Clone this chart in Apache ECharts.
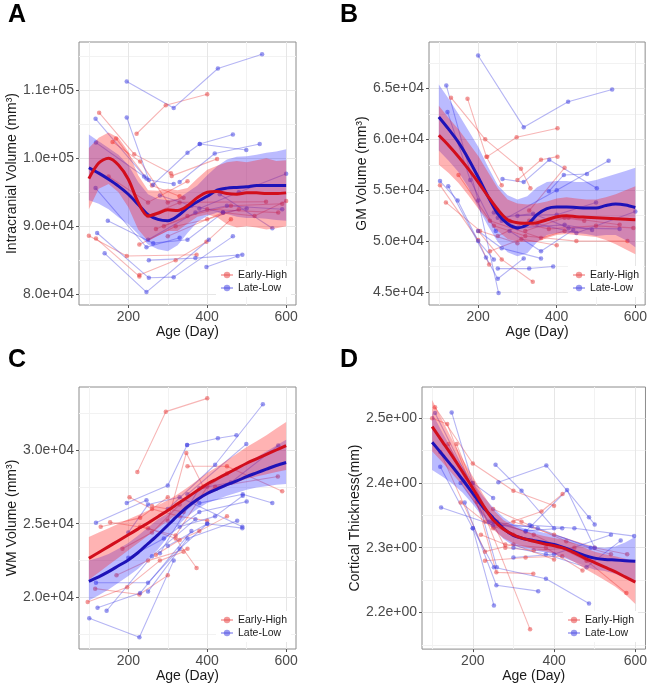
<!DOCTYPE html>
<html><head><meta charset="utf-8">
<script src="https://cdn.jsdelivr.net/npm/echarts@6/dist/echarts.min.js"></script>
<style>html,body{margin:0;padding:0;background:#fff}#c{width:650px;height:684px}</style>
</head><body><div id="c"></div><script>
// ---------------- DATA ----------------
const groups = ['Early-High', 'Late-Low'];
const xTicks = [200, 400, 600];
const xMinor = [100, 300, 500];
const fitDays = [100,125,150,175,200,225,250,275,300,325,350,375,400,425,450,475,500,525,550,575,600];

// Panel A: Intracranial volume
const A_yTicks = [80000, 90000, 100000, 110000];
const A_yMinor = [85000, 95000, 105000, 115000];
const A_red_fit  = [97000,99300,100000,99000,96900,93500,91500,91900,92400,92300,93000,94200,95000,95100,94800,94700,94900,94900,94800,94800,94900];
const A_red_hi   = [101500,103000,103800,103000,101000,97500,95300,95200,95500,95300,95600,97000,98300,98900,99400,99600,99400,99700,100000,99600,99700];
const A_red_lo   = [92500,95500,96200,95000,92800,89500,87800,88600,89300,89300,90400,91400,91700,91300,90300,89800,90000,89800,89500,89700,90000];
const A_blue_fit = [98600,97800,96900,95900,94700,93200,91700,91000,90800,91500,92700,93600,94400,95300,95600,95700,95800,96000,96000,96000,96000];
const A_blue_hi  = [103500,102500,101500,100500,99000,96500,94700,94000,93800,94000,95000,96000,97500,98800,99800,100200,100300,100500,100800,101000,101300];
const A_blue_lo  = [93800,93300,92500,91300,90300,88800,87300,86600,86300,87200,89000,90600,91500,92000,91800,91400,91200,91200,91100,90900,90800];
const A_red_subjects = [
  [[221,103600],[295,107800],[400,109400]],
  [[126,106700],[215,100600],[308,97800]],
  [[310,97400],[425,99900]],
  [[160,102400],[230,99500],[300,93500],[340,94200]],
  [[169,102900],[260,96000],[330,94400]],
  [[100,88600],[196,85600],[373,85800]],
  [[118,88200],[228,82600]],
  [[228,87300],[320,90000],[400,91000],[480,92500]],
  [[270,89600],[350,91500],[460,93000],[590,93300]],
  [[250,91500],[330,93500],[549,93600]],
  [[290,90000],[400,92500],[580,92000]],
  [[228,82800],[320,85000],[398,87700],[460,91000]],
  [[300,88500],[440,92000],[520,91500],[600,93700]],
  [[150,97300],[250,93500],[350,96600]]
];
const A_blue_subjects = [
  [[196,111300],[315,107400],[427,113200],[539,115300]],
  [[117,105800],[246,97000]],
  [[196,106000],[252,96800],[315,96200]],
  [[118,102300],[240,97300]],
  [[263,96100],[350,100800],[381,102100],[465,103500]],
  [[381,102100],[499,101200]],
  [[330,96500],[419,100700],[533,102100]],
  [[380,92600],[480,95000],[600,97700]],
  [[117,95600],[246,86900],[330,88300]],
  [[148,90800],[263,87500],[350,88000],[440,92000]],
  [[121,89000],[252,82400],[315,82500],[465,88500]],
  [[140,86000],[246,80300],[404,88000]],
  [[252,85000],[370,85300],[489,85800]],
  [[398,84000],[477,85600]],
  [[432,94700],[565,89700]],
  [[250,88000],[370,92000],[450,93000],[590,92500]],
  [[280,94500],[360,93000],[440,92000],[500,92600]]
];

// Panel B: GM volume
const B_yTicks = [45000, 50000, 55000, 60000, 65000];
const B_yMinor = [47500, 52500, 57500, 62500, 67500];
const B_red_fit  = [60400,59400,58300,57100,55800,54400,53100,52100,51800,51750,51800,52100,52400,52500,52400,52350,52300,52250,52200,52150,52100];
const B_red_hi   = [63300,62100,61000,59700,58400,56800,55200,54100,53700,53600,53700,53900,54200,54300,54200,54100,54100,54300,54600,55000,55400];
const B_red_lo   = [57500,56700,55700,54500,53200,52000,51000,50200,49900,49900,49900,50300,50600,50700,50600,50500,50400,50100,49700,49200,48700];
const B_blue_fit = [62200,61000,59700,58100,56300,54400,52700,51700,51300,51600,52600,53200,53350,53350,53300,53250,53250,53500,53650,53550,53300];
const B_blue_hi  = [65400,64000,62500,60900,59300,57300,55500,54500,54100,54400,55300,55800,55900,55900,55800,55800,56000,56300,56600,56900,57200];
const B_blue_lo  = [58900,57900,56800,55300,53300,51500,49900,48900,48500,48800,49900,50600,50800,50800,50800,50700,50500,50600,50600,50100,49400];
const B_red_subjects = [
  [[131,64100],[218,60000],[309,57100],[333,55200]],
  [[173,64000],[221,58300],[260,55500]],
  [[223,58300],[298,60200],[402,61100]],
  [[103,55500],[200,50100],[228,47700]],
  [[118,53800],[205,51000],[300,49800]],
  [[200,51000],[260,48200],[339,46000]],
  [[150,56500],[230,52000],[360,50300],[420,51000]],
  [[240,51500],[320,50500],[450,50000],[580,50000]],
  [[280,52000],[380,51200],[500,51500],[595,51300]],
  [[250,50500],[330,52000],[430,52300],[560,51600]],
  [[300,56000],[360,58000],[402,58300]],
  [[320,51000],[420,52300],[470,52000]],
  [[230,49000],[310,50200],[400,49600]],
  [[330,53000],[420,57200]]
];
const B_blue_subjects = [
  [[200,68250],[316,61200],[429,63700],[541,64900]],
  [[119,65300],[200,54000],[252,44900]],
  [[122,62700],[180,56000],[245,51000]],
  [[103,55900],[148,54000],[200,50000],[240,48200]],
  [[124,55400],[220,48400],[250,46300],[316,48300]],
  [[262,56100],[316,55800],[381,58000],[502,55200]],
  [[380,54900],[418,56500],[477,56600]],
  [[260,52000],[400,55000],[532,57900]],
  [[250,47300],[330,47300],[391,47500]],
  [[280,51000],[360,49000],[442,51100]],
  [[240,52800],[300,51300],[420,51600],[490,51100]],
  [[300,52500],[400,52600],[500,53800]],
  [[350,51700],[450,50800],[600,52900]],
  [[200,51000],[260,49300],[360,48300]],
  [[250,52300],[340,52700],[430,51300],[560,51200]]
];

// Panel C: WM volume
const C_yTicks = [20000, 25000, 30000];
const C_yMinor = [17500, 22500, 27500, 32500];
const C_red_fit  = [22650,23050,23450,23850,24250,24650,25050,25480,25900,26350,26800,27250,27700,28050,28400,28750,29100,29400,29700,30000,30300];
const C_red_hi   = [24100,24400,24700,25000,25300,25600,25900,26250,26600,27000,27450,27950,28450,28850,29300,29750,30200,30600,31000,31450,31900];
const C_red_lo   = [21200,21700,22200,22700,23200,23700,24200,24700,25200,25700,26150,26550,26950,27250,27550,27800,28050,28200,28350,28500,28650];
const C_blue_fit = [21100,21400,21750,22150,22550,23050,23650,24250,24900,25550,26150,26650,27050,27350,27650,27900,28200,28450,28700,28950,29150];
const C_blue_hi  = [22500,22700,22950,23300,23700,24200,24750,25300,25700,26250,26800,27300,27700,28050,28400,28750,29150,29500,29900,30300,30700];
const C_blue_lo  = [19800,20150,20550,21000,21450,21950,22600,23250,24100,24850,25500,26000,26400,26650,26900,27100,27300,27450,27550,27650,27700];
const C_red_subjects = [
  [[223,28500],[295,32600],[400,33500]],
  [[97,19700],[197,20700],[280,22500],[340,23100]],
  [[116,20600],[228,20200],[300,21500]],
  [[130,24800],[230,25400],[300,26800]],
  [[203,26800],[260,26000],[330,25500],[400,25200]],
  [[154,25100],[250,24700],[320,24000],[373,22000]],
  [[170,21500],[250,22500],[350,23300]],
  [[300,25200],[347,29800],[390,27500]],
  [[350,28900],[450,28900],[590,27200]],
  [[260,26200],[340,25800],[420,27500],[579,28200]],
  [[230,24800],[320,24200],[400,27500],[450,28400]],
  [[270,22900],[330,23900],[380,24500],[450,25500]],
  [[185,23300],[260,24400],[330,26300]]
];
const C_blue_subjects = [
  [[118,25070],[246,26600]],
  [[196,26400],[300,27600],[349,30340]],
  [[349,30340],[427,30800],[474,31000]],
  [[300,26000],[420,29000],[541,33100]],
  [[350,27000],[499,30400]],
  [[101,18600],[228,17300],[315,22500]],
  [[122,19300],[230,20300],[360,24500]],
  [[145,19100],[260,22800],[370,25300]],
  [[118,21000],[250,21000],[330,23300],[400,25000]],
  [[200,24400],[250,26300],[330,26800],[489,24800]],
  [[250,20400],[350,24000],[476,25200]],
  [[300,23500],[400,25000],[489,24700]],
  [[380,26400],[490,27000],[565,26400]],
  [[280,23000],[380,27400],[460,27800],[580,30300]],
  [[200,22700],[290,24000],[380,25800],[500,26500]],
  [[330,24800],[420,25500],[490,26900]]
];

// Panel D: cortical thickness
const D_yTicks = [2.2, 2.3, 2.4, 2.5];
const D_yMinor = [2.15, 2.25, 2.35, 2.45];
const D_red_fit  = [2.487,2.464,2.441,2.417,2.392,2.366,2.343,2.329,2.320,2.314,2.310,2.306,2.303,2.299,2.292,2.284,2.277,2.270,2.263,2.255,2.247];
const D_red_hi   = [2.528,2.497,2.466,2.437,2.410,2.383,2.359,2.343,2.333,2.326,2.322,2.318,2.315,2.312,2.306,2.300,2.294,2.290,2.287,2.283,2.278];
const D_red_lo   = [2.449,2.432,2.414,2.396,2.373,2.349,2.328,2.315,2.307,2.302,2.298,2.295,2.291,2.286,2.278,2.268,2.259,2.250,2.240,2.228,2.213];
const D_blue_fit = [2.463,2.444,2.425,2.405,2.384,2.363,2.346,2.330,2.319,2.314,2.311,2.308,2.305,2.300,2.294,2.288,2.284,2.282,2.281,2.280,2.279];
const D_blue_hi  = [2.508,2.478,2.450,2.425,2.401,2.380,2.362,2.347,2.336,2.330,2.327,2.323,2.320,2.316,2.310,2.305,2.301,2.300,2.302,2.308,2.317];
const D_blue_lo  = [2.420,2.410,2.399,2.385,2.367,2.347,2.330,2.314,2.303,2.299,2.296,2.293,2.290,2.284,2.278,2.272,2.266,2.264,2.260,2.253,2.246];
const D_red_subjects = [
  [[107,2.517],[200,2.430],[300,2.388],[400,2.365]],
  [[160,2.460],[341,2.174]],
  [[100,2.500],[137,2.491],[210,2.371],[258,2.262],[349,2.260]],
  [[120,2.448],[230,2.294],[300,2.305],[400,2.282]],
  [[170,2.370],[250,2.330],[369,2.356],[421,2.383]],
  [[200,2.400],[280,2.300],[350,2.296],[450,2.300]],
  [[230,2.280],[330,2.285],[420,2.287]],
  [[260,2.340],[350,2.320],[480,2.280],[578,2.230]],
  [[300,2.340],[400,2.320],[500,2.300],[580,2.290]],
  [[250,2.360],[320,2.340],[430,2.310],[540,2.290]],
  [[220,2.320],[280,2.305],[380,2.300],[470,2.265]],
  [[140,2.460],[230,2.340],[300,2.320]]
];
const D_blue_subjects = [
  [[107,2.508],[210,2.380],[259,2.270]],
  [[148,2.509],[200,2.400],[250,2.377]],
  [[122,2.362],[250,2.335],[345,2.333]],
  [[256,2.428],[320,2.388],[400,2.330]],
  [[263,2.401],[381,2.427],[486,2.347],[500,2.336]],
  [[330,2.325],[432,2.389],[500,2.300]],
  [[120,2.425],[200,2.330],[252,2.211]],
  [[180,2.370],[258,2.242],[361,2.233]],
  [[200,2.330],[252,2.270],[380,2.252],[486,2.214]],
  [[300,2.300],[380,2.290],[480,2.270],[564,2.311]],
  [[340,2.335],[450,2.330],[597,2.318]],
  [[250,2.340],[360,2.330],[490,2.300]],
  [[170,2.400],[240,2.340],[330,2.326],[420,2.330]],
  [[300,2.285],[400,2.290],[540,2.320]]
];

// ---------------- LAYOUT / STYLE ----------------
const FONT = 'Liberation Sans, Arial, Helvetica, sans-serif';
const RED_LINE = '#D20E1C', BLUE_LINE = '#1E12B8';
const RED_BAND = 'rgba(255,20,20,0.32)', BLUE_BAND = 'rgba(30,30,255,0.30)';
const RED_SUBJ = 'rgba(236,70,70,0.40)', BLUE_SUBJ = 'rgba(70,70,228,0.40)';
const RED_PT = 'rgba(232,70,70,0.55)', BLUE_PT = 'rgba(70,70,225,0.55)';

const panels = [
  {label:'A', lx:8, ly:3, grid:{left:79, top:42, width:217, height:263}, yr:[78400,117100], yTicks:A_yTicks, yMinor:A_yMinor,
   yName:'Intracranial Volume (mm³)', nameGap:59, leg:{left:216, top:266},
   red:A_red_subjects, blue:A_blue_subjects, rf:A_red_fit, rh:A_red_hi, rl:A_red_lo, bf:A_blue_fit, bh:A_blue_hi, bl:A_blue_lo},
  {label:'B', lx:340, ly:3, grid:{left:429, top:42, width:218, height:263}, yr:[43720,69570], yTicks:B_yTicks, yMinor:B_yMinor,
   yName:'GM Volume (mm³)', nameGap:57, leg:{left:568, top:266},
   red:B_red_subjects, blue:B_blue_subjects, rf:B_red_fit, rh:B_red_hi, rl:B_red_lo, bf:B_blue_fit, bh:B_blue_hi, bl:B_blue_lo},
  {label:'C', lx:8, ly:348, grid:{left:79, top:387, width:217, height:262}, yr:[16508,34271], yTicks:C_yTicks, yMinor:C_yMinor,
   yName:'WM Volume (mm³)', nameGap:59, leg:{left:216, top:611},
   red:C_red_subjects, blue:C_blue_subjects, rf:C_red_fit, rh:C_red_hi, rl:C_red_lo, bf:C_blue_fit, bh:C_blue_hi, bl:C_blue_lo},
  {label:'D', lx:340, ly:348, grid:{left:422, top:387, width:225, height:263}, yr:[2.1435,2.5482], yTicks:D_yTicks, yMinor:D_yMinor,
   yName:'Cortical Thickness(mm)', nameGap:55, leg:{left:563, top:611},
   red:D_red_subjects, blue:D_blue_subjects, rf:D_red_fit, rh:D_red_hi, rl:D_red_lo, bf:D_blue_fit, bh:D_blue_hi, bl:D_blue_lo}
];

function sci(v) {
  let e = Math.floor(Math.log10(Math.abs(v)) + 1e-9);
  let s = (v / Math.pow(10, e)).toFixed(1);
  if (s === '10.0') { e += 1; s = (v / Math.pow(10, e)).toFixed(1); }
  return s + 'e' + (e < 0 ? '-' : '+') + String(Math.abs(e)).padStart(2, '0');
}

const option = {
  animation: false,
  backgroundColor: '#fff',
  textStyle: {fontFamily: FONT},
  title: [], grid: [], xAxis: [], yAxis: [], legend: [], series: []
};

panels.forEach((p, i) => {
  option.title.push({text: p.label, left: p.lx, top: p.ly, padding: 0,
    textStyle: {fontSize: 25, fontWeight: 'bold', color: '#000', fontFamily: FONT}});
  option.grid.push(Object.assign({show: true, borderColor: '#8c8c8c', borderWidth: 1, backgroundColor: '#fff', containLabel: false}, p.grid));
  option.xAxis.push({type: 'value', gridIndex: i, min: 75, max: 625,
    name: 'Age (Day)', nameLocation: 'middle', nameGap: 17,
    nameTextStyle: {fontSize: 14, color: '#1a1a1a', fontFamily: FONT},
    axisLine: {show: false}, splitLine: {show: false},
    axisTick: {show: true, length: 3, customValues: xTicks, lineStyle: {color: '#555'}},
    axisLabel: {customValues: xTicks, margin: 5, fontSize: 14, color: '#4a4a4a', fontFamily: FONT}});
  option.yAxis.push({type: 'value', gridIndex: i, min: p.yr[0], max: p.yr[1],
    name: p.yName, nameLocation: 'middle', nameGap: p.nameGap,
    nameTextStyle: {fontSize: 14, color: '#1a1a1a', fontFamily: FONT},
    axisLine: {show: false}, splitLine: {show: false},
    axisTick: {show: true, length: 3, customValues: p.yTicks, lineStyle: {color: '#555'}},
    axisLabel: {customValues: p.yTicks, margin: 5, fontSize: 14, color: '#4a4a4a', fontFamily: FONT, formatter: sci}});
  option.legend.push({show: true, left: p.leg.left, top: p.leg.top, orient: 'vertical', data: groups, z: 20,
    backgroundColor: '#fff', padding: [3, 4, 3, 4], itemGap: 1, itemWidth: 12, itemHeight: 8,
    selectedMode: false, textStyle: {fontSize: 10.5, color: '#1a1a1a', lineHeight: 12, fontFamily: FONT}});

  // gridlines (through axes via markLine), kept under everything
  const gl = [];
  xMinor.forEach(v => gl.push({xAxis: v, lineStyle: {color: '#f2f2f2', width: 1, type: 'solid'}}));
  p.yMinor.forEach(v => gl.push({yAxis: v, lineStyle: {color: '#f2f2f2', width: 1, type: 'solid'}}));
  xTicks.forEach(v => gl.push({xAxis: v, lineStyle: {color: '#e6e6e6', width: 1, type: 'solid'}}));
  p.yTicks.forEach(v => gl.push({yAxis: v, lineStyle: {color: '#e6e6e6', width: 1, type: 'solid'}}));
  option.series.push({type: 'line', name: 'grid' + i, xAxisIndex: i, yAxisIndex: i, data: [], z: 0, silent: true,
    markLine: {silent: true, z: 0, symbol: ['none', 'none'], label: {show: false}, data: gl, animation: false}});

  // subject trajectories
  const subj = (name, pts, lc, pc) => ({type: 'line', name: name, xAxisIndex: i, yAxisIndex: i, data: pts, z: 2, silent: true,
    symbol: 'circle', symbolSize: 4.5, showSymbol: true, lineStyle: {width: 1.1, color: lc}, itemStyle: {color: pc, borderWidth: 0}});
  p.red.forEach(t => option.series.push(subj(groups[0], t, RED_SUBJ, RED_PT)));
  p.blue.forEach(t => option.series.push(subj(groups[1], t, BLUE_SUBJ, BLUE_PT)));

  // confidence bands
  const band = (lo, hi, color) => ({type: 'custom', xAxisIndex: i, yAxisIndex: i, z: 3, silent: true,
    data: fitDays.map((d, k) => [d, lo[k], hi[k]]), encode: {x: 0, y: [1, 2]},
    renderItem: function (params, api) {
      if (params.dataIndex !== 0) return null;
      const top = fitDays.map((d, k) => api.coord([d, hi[k]]));
      const bot = fitDays.map((d, k) => api.coord([d, lo[k]])).reverse();
      return {type: 'polygon', shape: {points: top.concat(bot)}, style: {fill: color}};
    }});
  option.series.push(band(p.bl, p.bh, BLUE_BAND));
  option.series.push(band(p.rl, p.rh, RED_BAND));

  // fitted lines
  const fit = (vals, color) => ({type: 'line', name: 'fit', xAxisIndex: i, yAxisIndex: i, z: 4, silent: true,
    data: fitDays.map((d, k) => [d, vals[k]]), showSymbol: false, symbol: 'none', smooth: 0.3,
    lineStyle: {width: 3, color: color}});
  option.series.push(fit(p.bf, BLUE_LINE));
  option.series.push(fit(p.rf, RED_LINE));
});

const chart = echarts.init(document.getElementById('c'), null, {renderer: 'canvas'});
chart.setOption(option);
</script></body></html>
